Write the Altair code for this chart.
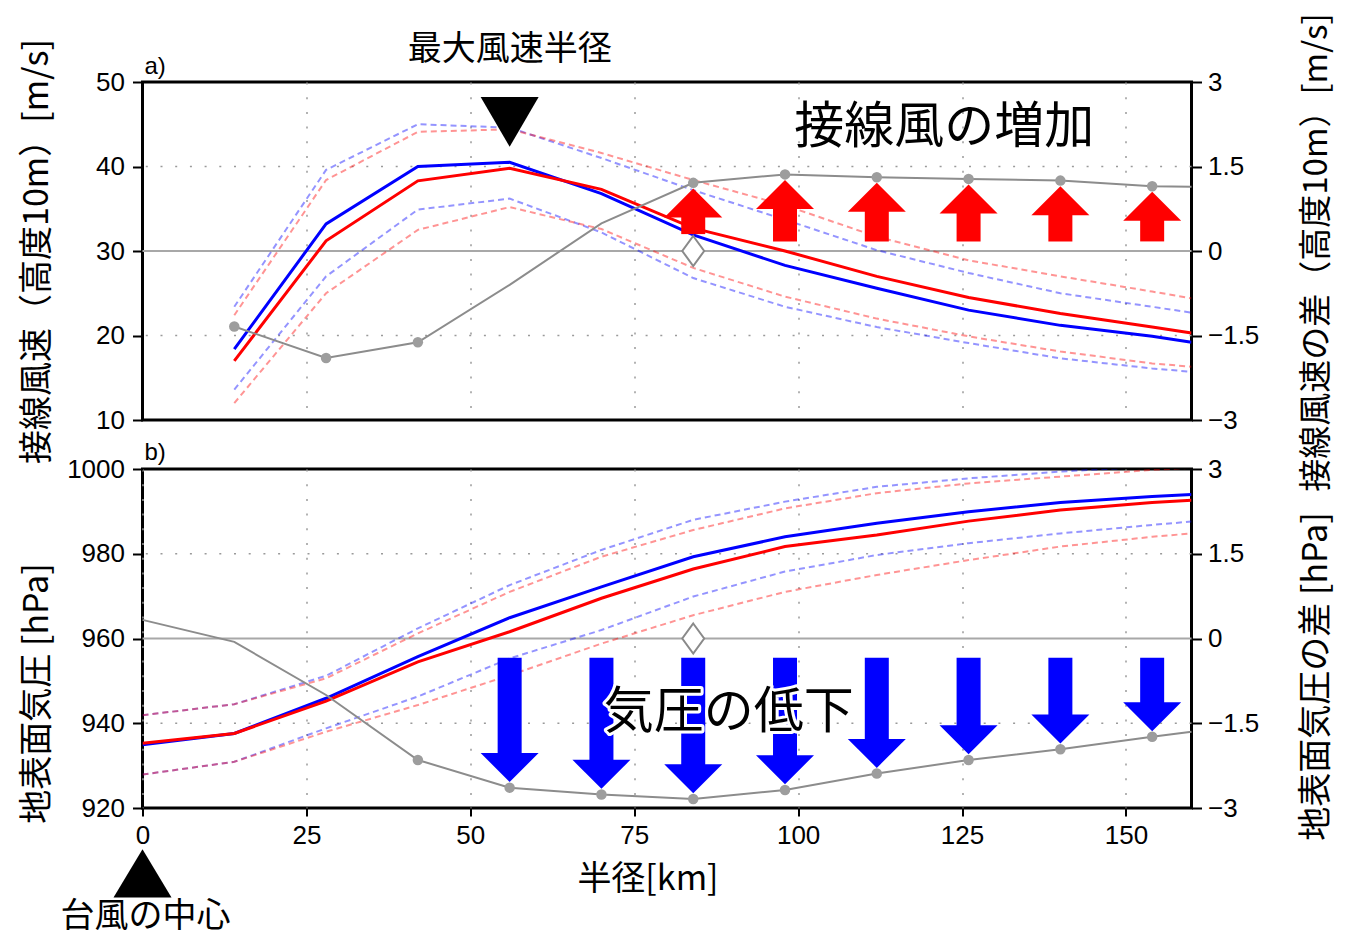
import altair as alt
import pandas as pd

# ---------------- data ----------------
R_TOP = [14, 28, 42, 56, 70, 84, 98, 112, 126, 140, 154, 160]
R_BOT = [0, 14, 28, 42, 56, 70, 84, 98, 112, 126, 140, 154, 160]

WIND_BLUE = [18.4, 33.2, 40.0, 40.5, 36.8, 31.9, 28.3, 25.6, 23.0, 21.2, 19.9, 19.2]
WIND_RED = [17.0, 31.2, 38.3, 39.8, 37.3, 32.7, 30.0, 27.0, 24.5, 22.6, 21.0, 20.3]
WIND_BLUE_HI = [23.4, 39.6, 45.0, 44.6, 41.0, 37.2, 33.7, 30.1, 27.4, 25.0, 23.4, 22.7]
WIND_BLUE_LO = [13.6, 27.0, 34.9, 36.2, 32.2, 26.8, 23.4, 21.0, 19.1, 17.3, 16.1, 15.7]
WIND_RED_HI = [22.4, 38.4, 44.1, 44.4, 41.6, 38.4, 35.4, 31.7, 28.9, 27.0, 25.2, 24.4]
WIND_RED_LO = [12.0, 25.0, 32.5, 35.2, 32.6, 28.0, 24.6, 22.0, 19.9, 18.1, 16.7, 16.3]
WIND_DIFF = [-1.34, -1.90, -1.62, -0.60, 0.49, 1.21, 1.36, 1.31, 1.28, 1.25, 1.15, 1.14]
WIND_DIFF_MARK = [True, True, True, False, False, True, True, True, True, True, True, False]

PS_BLUE = [934.9, 937.6, 945.9, 955.7, 964.9, 972.2, 979.3, 984.0, 987.2, 989.9, 992.1, 993.5, 994.0]
PS_RED = [935.3, 937.6, 945.2, 954.5, 961.6, 969.5, 976.4, 981.7, 984.4, 987.7, 990.3, 992.1, 992.6]
PS_BLUE_HI = [941.9, 944.5, 951.2, 962.4, 972.6, 980.9, 988.0, 992.3, 995.8, 997.8, 999.4, 1000.6, 1001.0]
PS_BLUE_LO = [927.9, 930.9, 938.8, 946.3, 955.3, 962.0, 969.9, 975.8, 979.7, 982.5, 984.8, 986.8, 987.6]
PS_RED_HI = [941.9, 944.5, 950.6, 961.2, 971.0, 979.3, 985.6, 990.7, 994.3, 996.6, 998.2, 999.8, 1000.3]
PS_RED_LO = [927.9, 930.9, 938.0, 944.3, 951.3, 958.8, 965.5, 971.0, 975.0, 978.5, 981.7, 984.0, 984.8]
PS_DIFF = [0.33, -0.06, -1.00, -2.15, -2.64, -2.76, -2.84, -2.68, -2.39, -2.15, -1.96, -1.74, -1.65]
PS_DIFF_MARK = [False, False, False, True, True, True, True, True, True, True, True, True, False]

UP_ARROW_R = [84, 98, 112, 126, 140, 154]
UP_ARROW_BASE = [0.30, 0.17, 0.17, 0.17, 0.17, 0.17]
DOWN_ARROW_R = [56, 70, 84, 98, 112, 126, 140, 154]
DOWN_ARROW_TOP = [-0.34] * 8

X_TICKS_TOP = [25, 50, 75, 100, 125, 150]
X_TICKS_BOT = [0, 25, 50, 75, 100, 125, 150]
Y_TICKS_WIND = [10, 20, 30, 40, 50]
Y_TICKS_PS = [920, 940, 960, 980, 1000]
Y_TICKS_DIFF = [-3, -1.5, 0, 1.5, 3]

# ---------------- style ----------------
FONT_JP = "Noto Sans CJK JP"
FONT_NUM = "Liberation Sans"
W = 1049
H_TOP = 338
H_BOT = 339
BLUE = "#0000ff"
RED = "#ff0000"
GRAY = "#8c8c8c"
MARK_GRAY = "#9d9d9d"
GRID = "#9a9a9a"
DOT = [2, 12.7]

HEAD_UP = "M0,0 L1,1 L-1,1 Z"
HEAD_DOWN = "M0,0 L1,-1 L-1,-1 Z"
BIG_DOWN = "M0,0 L1,-1.72 L-1,-1.72 Z"
BIG_UP = "M0,0 L1,1.66 L-1,1.66 Z"
DIAMOND = "M0,-1 L0.73,0 L0,1 L-0.73,0 Z"

col_scale = alt.Scale(domain=["blue", "red"], range=[BLUE, RED])


def long_df(r, series):
    rows = []
    for name, color, vals in series:
        for ri, vi in zip(r, vals):
            rows.append({"r": ri, "v": vi, "s": name, "c": color})
    return pd.DataFrame(rows)


def x_enc(bottom):
    if bottom:
        ax = alt.Axis(values=X_TICKS_BOT, grid=True, ticks=True, tickSize=8, labelPadding=6,
                      title="半径[km]", titleX=505, titleY=71, titleAngle=0,
                      titleBaseline="middle", titleAlign="center", labelFlush=False, format="d")
    else:
        ax = alt.Axis(values=X_TICKS_TOP, grid=True, ticks=False, labels=False, title=None)
    return alt.X("r:Q", scale=alt.Scale(domain=[0, 160], nice=False, zero=False), axis=ax)


def y_left(field, domain, values, title, title_y):
    return alt.Y(field, type="quantitative",
                 scale=alt.Scale(domain=domain, nice=False, zero=False),
                 axis=alt.Axis(values=values, format="d", title=title, orient="left",
                               titleX=-105.5, titleY=title_y, labelPadding=8, grid=False))


def y_right(field, title, title_y, title_size):
    return alt.Y(field, type="quantitative",
                 scale=alt.Scale(domain=[-3, 3], nice=False, zero=False),
                 axis=alt.Axis(values=Y_TICKS_DIFF, format=".2~g", title=title, orient="right",
                               titleX=125, titleY=title_y, titleFontSize=title_size,
                               labelPadding=6, grid=False))


def panel(bottom):
    if bottom:
        r = R_BOT
        dom = [920, 1000]
        vals = Y_TICKS_PS
        ltitle, lty = "地表面気圧 [hPa]", 224
        rtitle, rty, rts = "地表面気圧の差 [hPa]", 207, 34
        blue, red = PS_BLUE, PS_RED
        bhi, blo, rhi, rlo = PS_BLUE_HI, PS_BLUE_LO, PS_RED_HI, PS_RED_LO
        diff, mk = PS_DIFF, PS_DIFF_MARK
        grid_v, zero_v = [940, 980], [960]
        h = H_BOT
    else:
        r = R_TOP
        dom = [10, 50]
        vals = Y_TICKS_WIND
        ltitle, lty = "接線風速（高度10m）[m/s]", 169
        rtitle, rty, rts = "接線風速の差（高度10m）[m/s]", 170, 33
        blue, red = WIND_BLUE, WIND_RED
        bhi, blo, rhi, rlo = WIND_BLUE_HI, WIND_BLUE_LO, WIND_RED_HI, WIND_RED_LO
        diff, mk = WIND_DIFF, WIND_DIFF_MARK
        grid_v, zero_v = [20, 40], [30]
        h = H_TOP

    X = x_enc(bottom)
    YL = lambda f: y_left(f, dom, vals, ltitle, lty)
    YR = lambda f: y_right(f, rtitle, rty, rts)

    grid_l = alt.Chart(pd.DataFrame({"v": grid_v})).mark_rule(
        color=GRID, strokeWidth=1.5, strokeDash=DOT).encode(y=YL("v"))
    zero_l = alt.Chart(pd.DataFrame({"v": zero_v})).mark_rule(
        color="#a8a8a8", strokeWidth=2).encode(y=YL("v"))
    dashed = alt.Chart(long_df(r, [("bhi", "blue", bhi), ("blo", "blue", blo),
                                   ("rhi", "red", rhi), ("rlo", "red", rlo)])).mark_line(
        strokeWidth=2, strokeDash=[6, 4], opacity=0.42, clip=True).encode(
        x=X, y=YL("v"), color=alt.Color("c:N", scale=col_scale, legend=None), detail="s:N")
    solid_b = alt.Chart(long_df(r, [("b", "blue", blue)])).mark_line(
        strokeWidth=3, color=BLUE, clip=True).encode(x=X, y=YL("v"))
    solid_r = alt.Chart(long_df(r, [("r", "red", red)])).mark_line(
        strokeWidth=3, color=RED, clip=True).encode(x=X, y=YL("v"))
    left = alt.layer(grid_l, zero_l, dashed, solid_b, solid_r)

    dfd = pd.DataFrame({"r": r, "d": diff, "m": mk})
    gray_line = alt.Chart(dfd).mark_line(color=GRAY, strokeWidth=2).encode(x=X, y=YR("d"))
    gray_pts = alt.Chart(dfd[dfd["m"]]).mark_circle(
        size=110, color=MARK_GRAY, opacity=1).encode(x=X, y=YR("d"))
    lookup = dict(zip(r, diff))
    if bottom:
        tips = [lookup[a] + 0.1 for a in DOWN_ARROW_R]
        adf = pd.DataFrame({"r": DOWN_ARROW_R, "base": DOWN_ARROW_TOP, "tip": tips,
                            "shaft": [t + 0.3 for t in tips]})
        acol, head = BLUE, HEAD_DOWN
    else:
        tips = [lookup[a] - 0.1 for a in UP_ARROW_R]
        adf = pd.DataFrame({"r": UP_ARROW_R, "base": UP_ARROW_BASE, "tip": tips,
                            "shaft": [t - 0.3 for t in tips]})
        acol, head = RED, HEAD_UP
    shafts = alt.Chart(adf).mark_rule(color=acol, strokeWidth=24, strokeCap="butt").encode(
        x=X, y=YR("base"), y2=alt.Y2("shaft"))
    heads = alt.Chart(adf).mark_point(shape=head, size=3364, filled=True, color=acol,
                                      opacity=1, strokeWidth=0).encode(x=X, y=YR("tip"))
    diamond = alt.Chart(pd.DataFrame({"r": [84], "d": [0.0]})).mark_point(
        shape=DIAMOND, size=900, filled=True, fill="white", stroke="#8a8a8a",
        strokeWidth=2, opacity=1).encode(x=X, y=YR("d"))
    right_layers = [gray_line, gray_pts, shafts, heads, diamond]

    if bottom:
        tdf = pd.DataFrame({"r": [89.4], "d": [-1.32], "t": ["気圧の低下"]})
        halo = alt.Chart(tdf).mark_text(font=FONT_JP, fontSize=50, color="white", stroke="white",
                                        strokeWidth=6, strokeJoin="round", align="center",
                                        baseline="middle").encode(x=X, y=YR("d"), text="t:N")
        txt = alt.Chart(tdf).mark_text(font=FONT_JP, fontSize=50, color="black", align="center",
                                       baseline="middle").encode(x=X, y=YR("d"), text="t:N")
        lab = alt.Chart(pd.DataFrame({"r": [0], "d": [3.28], "t": ["b)"]})).mark_text(
            font=FONT_NUM, fontSize=24, color="black", align="left", baseline="middle", dx=2
        ).encode(x=X, y=YR("d"), text="t:N")
        tri = alt.Chart(pd.DataFrame({"r": [0], "d": [-3.73]})).mark_point(
            shape=BIG_UP, size=3364, filled=True, color="black", opacity=1, strokeWidth=0
        ).encode(x=X, y=YR("d"))
        ctr = alt.Chart(pd.DataFrame({"r": [0.45], "d": [-4.93], "t": ["台風の中心"]})).mark_text(
            font=FONT_JP, fontSize=34, color="black", align="center", baseline="middle"
        ).encode(x=X, y=YR("d"), text="t:N")
        right_layers += [halo, txt, lab, tri, ctr]
    else:
        txt = alt.Chart(pd.DataFrame({"r": [122.3], "d": [2.18], "t": ["接線風の増加"]})).mark_text(
            font=FONT_JP, fontSize=50, color="black", align="center", baseline="middle"
        ).encode(x=X, y=YR("d"), text="t:N")
        lab = alt.Chart(pd.DataFrame({"r": [0], "d": [3.27], "t": ["a)"]})).mark_text(
            font=FONT_NUM, fontSize=24, color="black", align="left", baseline="middle", dx=2
        ).encode(x=X, y=YR("d"), text="t:N")
        tri = alt.Chart(pd.DataFrame({"r": [56], "d": [1.85]})).mark_point(
            shape=BIG_DOWN, size=3364, filled=True, color="black", opacity=1, strokeWidth=0
        ).encode(x=X, y=YR("d"))
        rmw = alt.Chart(pd.DataFrame({"r": [56], "d": [3.57], "t": ["最大風速半径"]})).mark_text(
            font=FONT_JP, fontSize=34, color="black", align="center", baseline="middle"
        ).encode(x=X, y=YR("d"), text="t:N")
        right_layers += [txt, lab, tri, rmw]
    right = alt.layer(*right_layers)

    return alt.layer(left, right).resolve_scale(y="independent").properties(width=W, height=h)


chart = alt.vconcat(panel(False), panel(True), spacing=49, bounds="flush").properties(
    padding={"left": 9.5, "top": 3, "right": 0, "bottom": 0}
).configure_view(stroke="black", strokeWidth=3).configure_axis(
    labelFont=FONT_NUM, labelFontSize=26, labelColor="black",
    titleFont=FONT_JP, titleFontSize=34, titleFontWeight="normal", titleColor="black",
    tickColor="black", tickWidth=2, tickSize=10, domain=False,
    gridColor=GRID, gridDash=DOT, gridWidth=1.5, gridOpacity=1,
).configure_axisY(titleAngle=270, titleAlign="center", titleBaseline="middle")

chart.save("out.html", embed_options={"renderer": "svg", "actions": False})
